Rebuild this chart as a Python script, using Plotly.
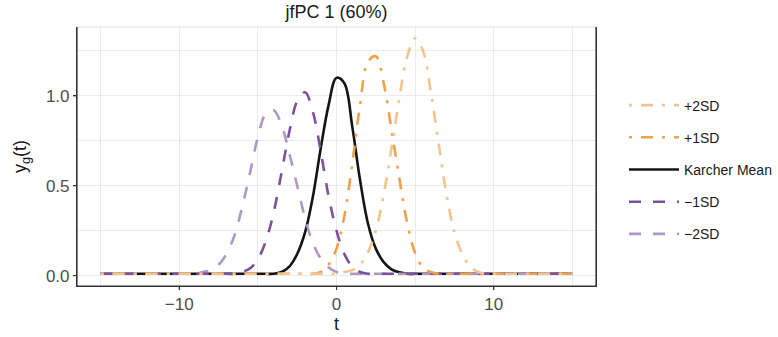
import plotly.graph_objects as go

# ---- data ----
t = [-15, -12.5, -10, -9.5, -9, -8.5, -8, -7.5, -7, -6.5, -6, -5.5, -5, -4.5, -4,
     -3.5, -3, -2.5, -2, -1.5, -1, -0.5, 0, 0.5, 1, 1.5, 2, 2.5, 3, 3.5, 4,
     4.5, 5, 5.5, 6, 6.5, 7, 7.5, 8, 8.5, 9, 9.5, 10, 12.5, 15]

plus2sd = [0.01, 0.01, 0.01, 0.01, 0.01, 0.01, 0.01, 0.01, 0.01, 0.01, 0.01, 0.01, 0.01, 0.01, 0.01,
           0.01, 0.01, 0.01, 0.01, 0.01, 0.01, 0.01, 0.01, 0.02, 0.03, 0.06, 0.13, 0.25, 0.45, 0.71, 0.99,
           1.22, 1.32, 1.25, 1.02, 0.73, 0.45, 0.24, 0.12, 0.05, 0.02, 0.01, 0.01, 0.01, 0.01]

plus1sd = [0.01, 0.01, 0.01, 0.01, 0.01, 0.01, 0.01, 0.01, 0.01, 0.01, 0.01, 0.01, 0.01, 0.01, 0.01,
           0.01, 0.01, 0.01, 0.01, 0.01, 0.02, 0.06, 0.15, 0.33, 0.62, 0.95, 1.19, 1.22, 1.07, 0.81, 0.54,
           0.29, 0.125, 0.045, 0.02, 0.01, 0.01, 0.01, 0.01, 0.01, 0.01, 0.01, 0.01, 0.01, 0.01]

karcher = [0.01, 0.01, 0.01, 0.01, 0.01, 0.01, 0.01, 0.01, 0.01, 0.01, 0.01, 0.01, 0.01, 0.01, 0.01,
           0.02, 0.05, 0.12, 0.24, 0.44, 0.71, 0.95, 1.10, 1.07, 0.83, 0.53, 0.29, 0.15, 0.075, 0.035, 0.018,
           0.01, 0.01, 0.01, 0.01, 0.01, 0.01, 0.01, 0.01, 0.01, 0.01, 0.01, 0.01, 0.01, 0.01]

minus1sd = [0.01, 0.01, 0.01, 0.01, 0.01, 0.01, 0.01, 0.01, 0.01, 0.01, 0.02, 0.04, 0.09, 0.19, 0.35,
            0.57, 0.80, 0.97, 1.02, 0.91, 0.69, 0.44, 0.25, 0.12, 0.05, 0.02, 0.01, 0.01, 0.01, 0.01, 0.01,
            0.01, 0.01, 0.01, 0.01, 0.01, 0.01, 0.01, 0.01, 0.01, 0.01, 0.01, 0.01, 0.01, 0.01]

minus2sd = [0.01, 0.01, 0.01, 0.01, 0.01, 0.02, 0.03, 0.06, 0.12, 0.22, 0.38, 0.57, 0.77, 0.90, 0.92,
            0.84, 0.68, 0.50, 0.32, 0.18, 0.095, 0.045, 0.02, 0.01, 0.01, 0.01, 0.01, 0.01, 0.01, 0.01, 0.01,
            0.01, 0.01, 0.01, 0.01, 0.01, 0.01, 0.01, 0.01, 0.01, 0.01, 0.01, 0.01, 0.01, 0.01]

# drawing order: Karcher at the bottom, +2SD on top; legend order via legendrank
series_names = ["Karcher Mean", "\u22122SD", "\u22121SD", "+1SD", "+2SD"]
series_values = [karcher, minus2sd, minus1sd, plus1sd, plus2sd]
series_colors = ["#141414", "#AE98C6", "#7D519B", "#EFA24C", "#F3C48F"]
series_dash = ["solid", "12px,12px", "12px,12px", "3px,9px,12px,9px", "3px,9px,12px,9px"]
series_rank = [3, 5, 4, 2, 1]

x_ticks = [-10, 0, 10]
x_ticktext = ["\u221210", "0", "10"]
x_minor = [-15, -5, 5, 15]
y_ticks = [0.0, 0.5, 1.0]
y_ticktext = ["0.0", "0.5", "1.0"]
y_minor = [0.25, 0.75, 1.25]

FONT = "Liberation Sans, Arial, sans-serif"

fig = go.Figure()
for name, vals, col, dash, rk in zip(series_names, series_values, series_colors, series_dash, series_rank):
    fig.add_trace(go.Scatter(
        x=t, y=vals, mode="lines", name=name, legendgroup=name, legendrank=rk,
        line=dict(color=col, width=2.6, dash=dash, shape="spline", smoothing=1.0),
    ))

grid_col = "#EBEBEB"
axis_col = "#333333"
tick_font = dict(family=FONT, size=17, color="#4D4D4D")

fig.update_xaxes(
    range=[-16.5, 16.5], tickvals=x_ticks, ticktext=x_ticktext,
    showgrid=True, gridcolor=grid_col, gridwidth=1.4,
    minor=dict(tickvals=x_minor, showgrid=True, gridcolor=grid_col, gridwidth=0.8, ticks=""),
    showline=True, linecolor=axis_col, linewidth=1.1,
    ticks="outside", ticklen=3, tickcolor=axis_col, tickwidth=1.1,
    tickfont=tick_font, zeroline=False, automargin=False,
    title=dict(text="t", font=dict(family=FONT, size=18, color="#1a1a1a"), standoff=2),
)
fig.update_yaxes(
    range=[-0.058, 1.383], tickvals=y_ticks, ticktext=y_ticktext,
    showgrid=True, gridcolor=grid_col, gridwidth=1.4,
    minor=dict(tickvals=y_minor, showgrid=True, gridcolor=grid_col, gridwidth=0.8, ticks=""),
    showline=True, linecolor=axis_col, linewidth=1.1, mirror=True,
    ticks="outside", ticklen=3, tickcolor=axis_col, tickwidth=1.1,
    tickfont=tick_font, zeroline=False, automargin=False,
    title=dict(text="y<sub>g</sub>(t)", font=dict(family=FONT, size=18, color="#1a1a1a"), standoff=14),
)

# panel frame: light top edge, dark left / bottom / right edges
fig.add_shape(type="line", xref="paper", yref="paper", x0=0, x1=1, y0=1, y1=1,
              line=dict(color="#DDDDDD", width=1), layer="above")
for (x0, y0, x1, y1) in [(0, 0, 0, 1), (0, 0, 1, 0), (1, 0, 1, 1)]:
    fig.add_shape(type="line", xref="paper", yref="paper", x0=x0, y0=y0, x1=x1, y1=y1,
                  line=dict(color=axis_col, width=1.2), layer="above")

# small outside tick marks
for xv in x_ticks:
    fig.add_shape(type="line", xref="x", yref="paper", ysizemode="pixel", yanchor=0,
                  x0=xv, x1=xv, y0=0, y1=-4, line=dict(color=axis_col, width=1.1), layer="above")
for yv in y_ticks:
    fig.add_shape(type="line", xref="paper", yref="y", xsizemode="pixel", xanchor=0,
                  x0=0, x1=-4, y0=yv, y1=yv, line=dict(color=axis_col, width=1.1), layer="above")

fig.update_layout(
    width=778, height=337,
    margin=dict(l=77, r=182, t=27, b=51, autoexpand=False),
    paper_bgcolor="white", plot_bgcolor="white",
    font=dict(family=FONT, color="#1a1a1a"),
    title=dict(text="jfPC 1 (60%)", xref="paper", x=0.5, xanchor="center",
               yref="container", y=1 - 12 / 337, yanchor="middle",
               font=dict(family=FONT, size=18, color="#1a1a1a")),
    legend=dict(xref="container", x=624 / 778, xanchor="left",
                yref="container", y=1 - 169.5 / 337, yanchor="middle",
                font=dict(family=FONT, size=14, color="#1a1a1a"),
                tracegroupgap=11, itemwidth=50, bgcolor="rgba(0,0,0,0)",
                traceorder="grouped"),
    showlegend=True,
)

fig.write_html("out.html",
               config={"displayModeBar": False},
               post_script="document.body.style.margin='0';document.body.style.padding='0';")
